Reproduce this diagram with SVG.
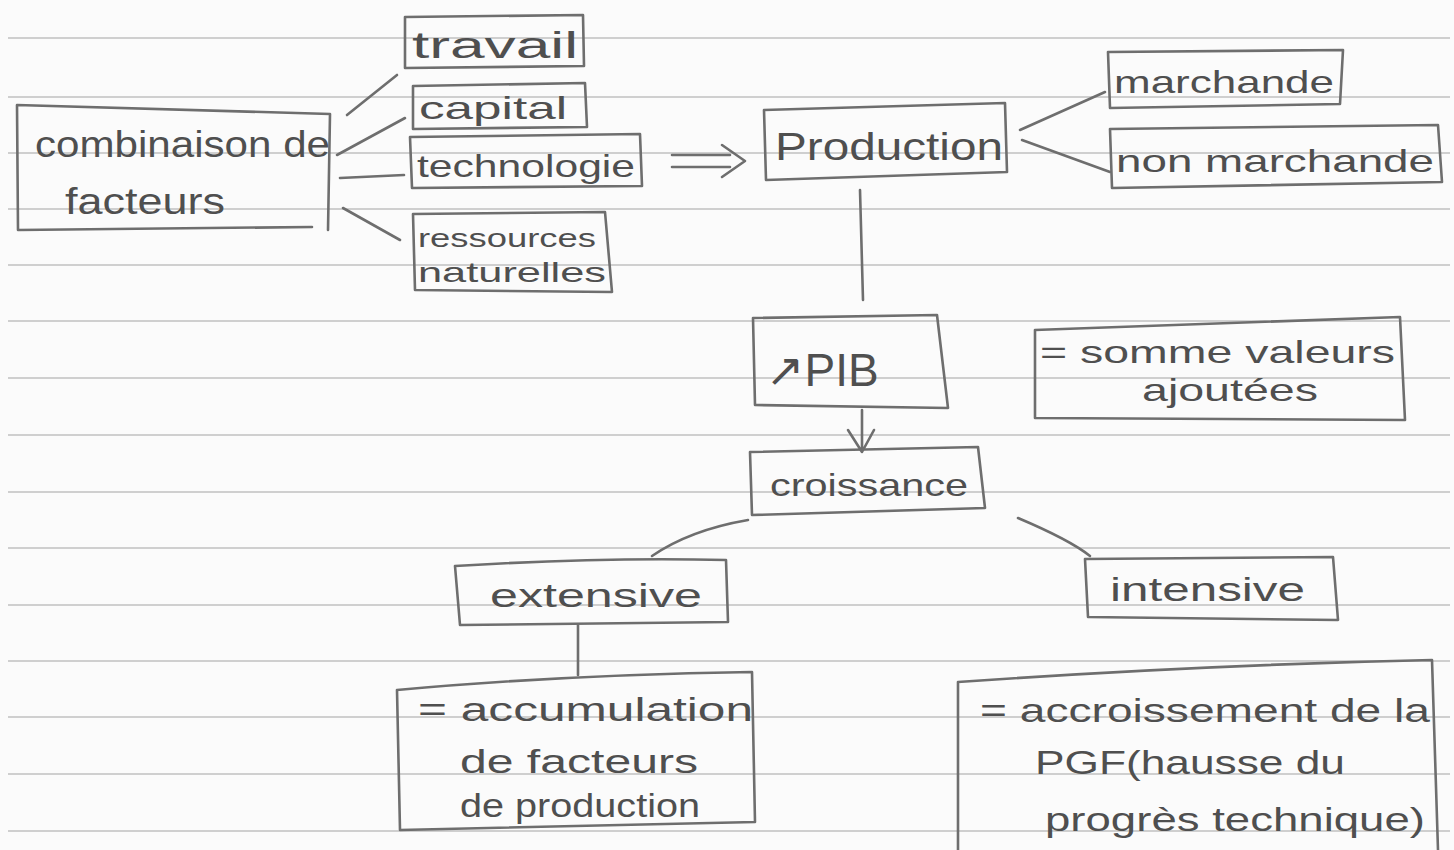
<svg xmlns="http://www.w3.org/2000/svg" width="1454" height="850" viewBox="0 0 1454 850">
<defs>
<style>
.rule{stroke:#cfcfcf;stroke-width:2;fill:none}
.box{fill:none;stroke:#6e6e6e;stroke-width:2.6;stroke-linejoin:round;stroke-linecap:round}
.con{fill:none;stroke:#6e6e6e;stroke-width:2.6;stroke-linecap:round;stroke-linejoin:round}
.t{font-family:"Liberation Sans","DejaVu Sans",sans-serif;fill:#4f4f4f}
</style>
</defs>
<rect width="1454" height="850" fill="#fbfbfb"/>
<g id="ruling">
<path class="rule" d="M8 38H1450M8 97H1450M8 153H1450M8 209H1450M8 265H1450M8 321H1450M8 378H1450M8 435H1450M8 492H1450M8 548H1450M8 605H1450M8 661H1450M8 717H1450M8 774H1450M8 831H1450"/>
</g>
<g id="connectors">
<path class="con" d="M347 115L397 75"/>
<path class="con" d="M337 155L405 118"/>
<path class="con" d="M340 178L404 175"/>
<path class="con" d="M343 208L400 240"/>
<path class="con" d="M672 155H730M672 167H730M722 145L745 161L722 177"/>
<path class="con" d="M1020 130L1105 92"/>
<path class="con" d="M1022 140L1110 172"/>
<path class="con" d="M860 190L863 300"/>
<path class="con" d="M862 410L862 452M848 430L862 452L874 430"/>
<path class="con" d="M748 520Q690 530 652 556"/>
<path class="con" d="M1018 518Q1070 540 1090 556"/>
<path class="con" d="M578 625V675"/>
</g>
<g id="n-combinaison">
<path class="box" d="M17 105L330 114L328 230M17 105L18 230L312 227"/>
<text class="t" x="35" y="157" font-size="36" textLength="295" lengthAdjust="spacingAndGlyphs">combinaison de</text>
<text class="t" x="65" y="214" font-size="36" textLength="160" lengthAdjust="spacingAndGlyphs">facteurs</text>
</g>
<g id="n-travail">
<path class="box" d="M405 17L583 15L584 66L405 68Z"/>
<text class="t" x="412" y="58" font-size="36" textLength="166" lengthAdjust="spacingAndGlyphs">travail</text>
</g>
<g id="n-capital">
<path class="box" d="M413 86L585 83L587 127L413 129Z"/>
<text class="t" x="419" y="119" font-size="32" textLength="148" lengthAdjust="spacingAndGlyphs">capital</text>
</g>
<g id="n-technologie">
<path class="box" d="M410 137L640 134L642 186L412 188Z"/>
<text class="t" x="417" y="177" font-size="32" textLength="218" lengthAdjust="spacingAndGlyphs">technologie</text>
</g>
<g id="n-ressources">
<path class="box" d="M413 214L605 212L612 292L415 290Z"/>
<text class="t" x="418" y="247" font-size="26" textLength="178" lengthAdjust="spacingAndGlyphs">ressources</text>
<text class="t" x="418" y="282" font-size="28" textLength="188" lengthAdjust="spacingAndGlyphs">naturelles</text>
</g>
<g id="n-production">
<path class="box" d="M764 110L1005 103L1007 172L766 180Z"/>
<text class="t" x="775" y="160" font-size="38" textLength="228" lengthAdjust="spacingAndGlyphs">Production</text>
</g>
<g id="n-marchande">
<path class="box" d="M1108 52L1343 50L1340 104L1110 108Z"/>
<text class="t" x="1114" y="93" font-size="32" textLength="220" lengthAdjust="spacingAndGlyphs">marchande</text>
</g>
<g id="n-nonmarchande">
<path class="box" d="M1110 129L1438 125L1442 182L1112 188Z"/>
<text class="t" x="1116" y="172" font-size="32" textLength="318" lengthAdjust="spacingAndGlyphs">non marchande</text>
</g>
<g id="n-pib">
<path class="box" d="M753 318L937 315L948 408L755 405Z"/>
<text class="t" x="766" y="386" font-size="46">↗PIB</text>
</g>
<g id="n-somme">
<path class="box" d="M1035 330L1400 317L1405 420L1035 418Z"/>
<text class="t" x="1040" y="363" font-size="32" textLength="355" lengthAdjust="spacingAndGlyphs">= somme valeurs</text>
<text class="t" x="1142" y="401" font-size="32" textLength="176" lengthAdjust="spacingAndGlyphs">ajoutées</text>
</g>
<g id="n-croissance">
<path class="box" d="M750 452L978 447L985 508L752 515Z"/>
<text class="t" x="770" y="496" font-size="32" textLength="198" lengthAdjust="spacingAndGlyphs">croissance</text>
</g>
<g id="n-extensive">
<path class="box" d="M455 566Q600 557 726 560L728 622L460 625Z"/>
<text class="t" x="490" y="607" font-size="34" textLength="212" lengthAdjust="spacingAndGlyphs">extensive</text>
</g>
<g id="n-intensive">
<path class="box" d="M1085 559L1333 557L1338 620L1088 617Z"/>
<text class="t" x="1110" y="601" font-size="34" textLength="195" lengthAdjust="spacingAndGlyphs">intensive</text>
</g>
<g id="n-accumulation">
<path class="box" d="M397 690Q560 675 752 672L755 822L400 830Z"/>
<text class="t" x="418" y="721" font-size="34" textLength="335" lengthAdjust="spacingAndGlyphs">= accumulation</text>
<text class="t" x="460" y="773" font-size="34" textLength="238" lengthAdjust="spacingAndGlyphs">de facteurs</text>
<text class="t" x="460" y="817" font-size="34" textLength="240" lengthAdjust="spacingAndGlyphs">de production</text>
</g>
<g id="n-accroissement">
<path class="box" d="M958 850V682Q1200 665 1432 660L1438 850"/>
<text class="t" x="980" y="722" font-size="34" textLength="450" lengthAdjust="spacingAndGlyphs">= accroissement de la</text>
<text class="t" x="1035" y="774" font-size="34" textLength="310" lengthAdjust="spacingAndGlyphs">PGF(hausse du</text>
<text class="t" x="1045" y="831" font-size="34" textLength="380" lengthAdjust="spacingAndGlyphs">progrès technique)</text>
</g>
</svg>
